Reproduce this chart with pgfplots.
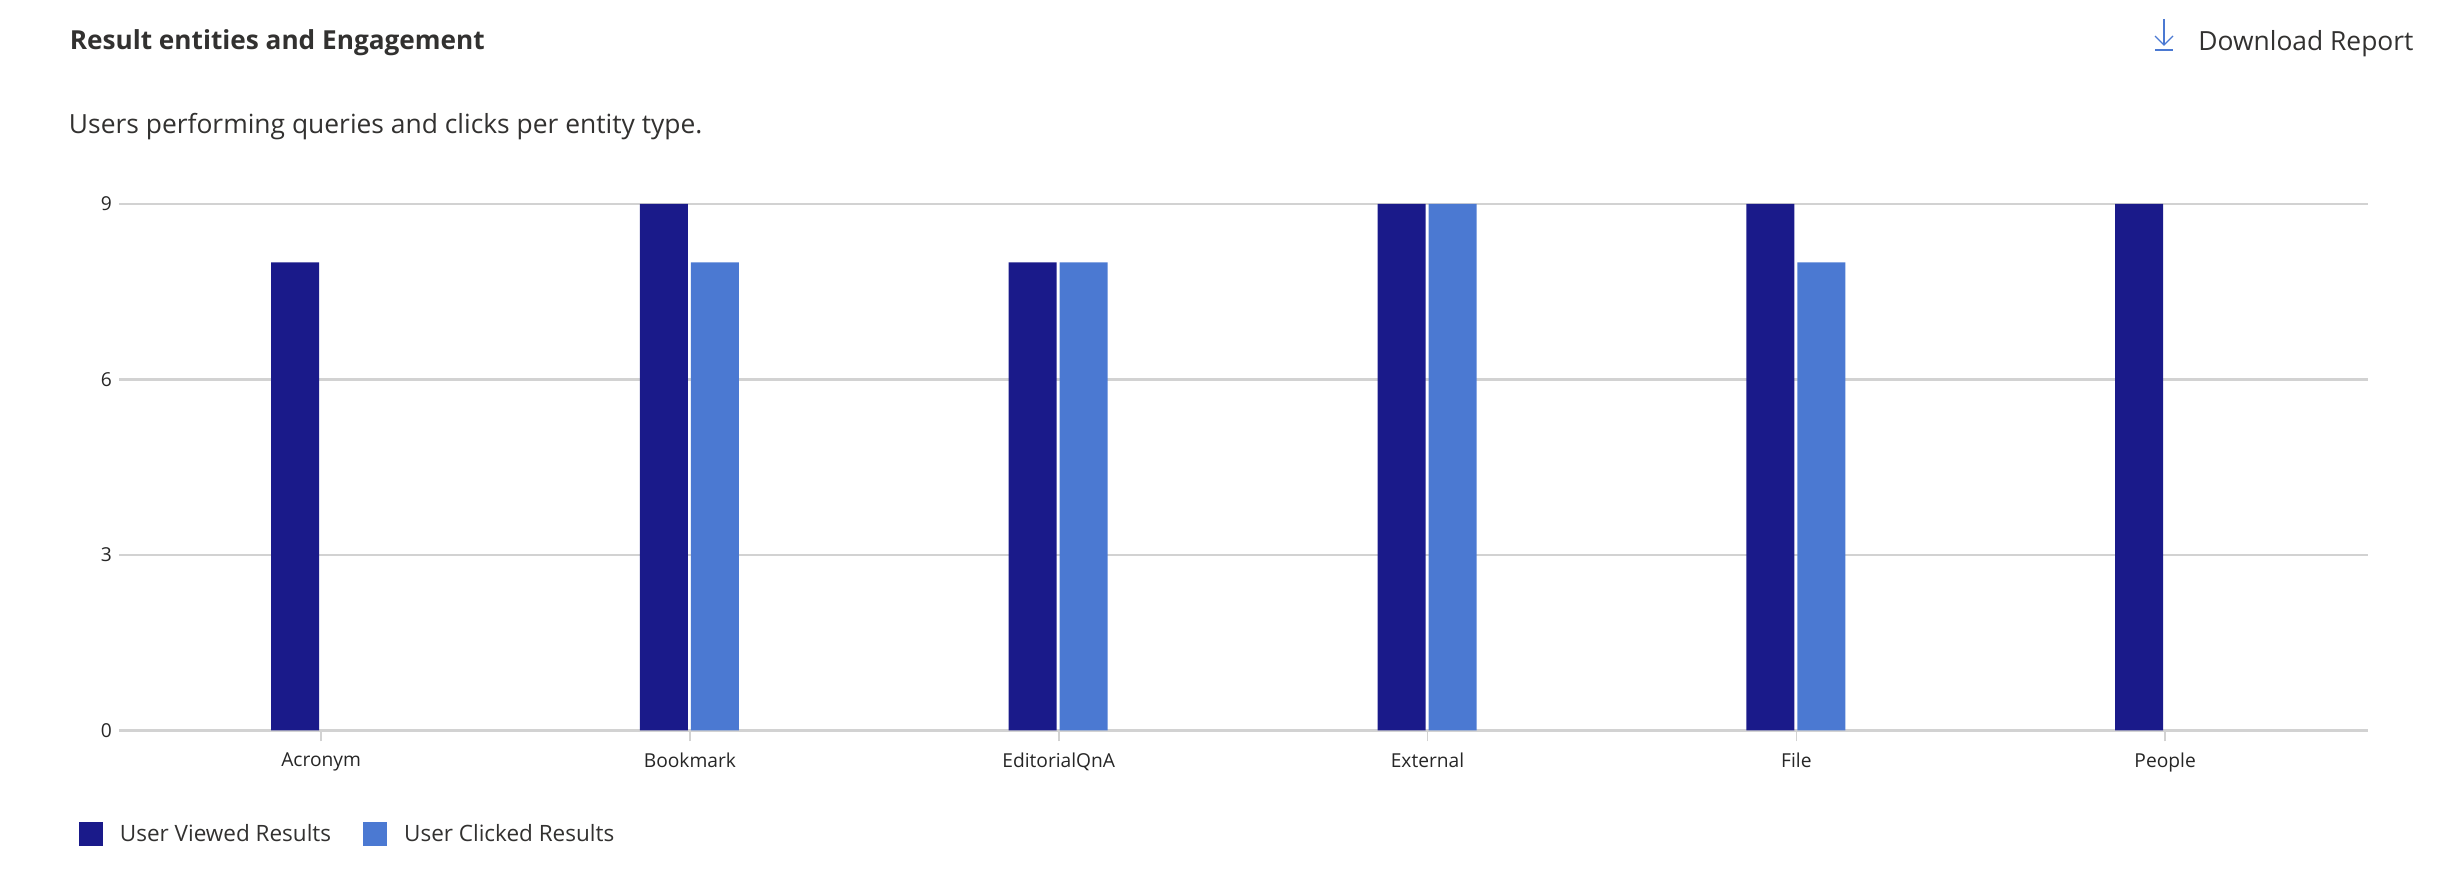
\documentclass[border=0pt]{standalone}
\usepackage{pgfplots}
\usepackage{fontspec}
\setmainfont{Open Sans}
\pgfplotsset{compat=1.18}
\definecolor{viewed}{HTML}{1A1A8A}
\definecolor{clicked}{HTML}{4B79D2}
\definecolor{gridc}{HTML}{D2D2D2}
\definecolor{txt}{HTML}{323130}
\pgfplotstableread{
x viewed clicked
0 8 nan
1 9 8
2 8 8
3 9 9
4 9 8
5 9 nan
}\datatable
\begin{document}
\begin{tikzpicture}
\useasboundingbox (-59.5pt,-76pt) rectangle (1164.5pt,365pt);
\begin{axis}[
  at={(0pt,-0.25pt)}, anchor=south west,
  scale only axis, width=1124.5pt, height=263.25pt,
  xmin=-0.548, xmax=5.55, ymin=0, ymax=9,
  clip=false,
  ybar,
  axis line style={draw=none},
  xtick={0,1,2,3,4,5},
  xtick pos=bottom,
  ytick pos=left,
  xticklabels={Acronym,Bookmark,EditorialQnA,External,File,People},
  ytick={0,3,6,9},
  ymajorgrids,
  grid style={gridc,line width=1.1pt},
  major tick length=5.5pt,
  xtick style={gridc,line width=0.8pt},
  ytick style={draw=none},
  tick label style={font=\fontsize{9.6}{11}\selectfont,text=black!85},
  /pgf/number format/assume math mode=true,
  xticklabel style={yshift=-2pt},
  legend columns=2,
  legend style={draw=none,fill=none,at={(-0.0178,-0.197)},anchor=west,inner sep=0pt,outer sep=0pt,
    font=\fontsize{11.25}{13}\selectfont,text=txt,
    /tikz/every odd column/.style={column sep=6.5pt},
    /tikz/every even column/.style={column sep=14pt}},
  legend image code/.code={\fill[#1] (0pt,-6pt) rectangle (12pt,6pt);},
]
\addplot[fill=viewed,draw=none,bar width=24pt,bar shift=-13pt] table[x=x,y=viewed]{\datatable};
\addlegendentry{User Viewed Results}
\addplot[fill=clicked,draw=none,bar width=24pt,bar shift=12.5pt] table[x=x,y=clicked]{\datatable};
\addlegendentry{User Clicked Results}
\end{axis}
\node[anchor=base west,inner sep=0pt,text=txt,font=\fontsize{13.1}{15}\selectfont\bfseries] at (-24.8pt,340pt) {Result entities and Engagement};
\node[anchor=base west,inner sep=0pt,text=txt,font=\fontsize{13.2}{15}\selectfont] at (-25.2pt,298pt) {Users performing queries and clicks per entity type.};
\node[anchor=base west,inner sep=0pt,text=txt,font=\fontsize{13.2}{15}\selectfont] at (1039.5pt,339.7pt) {Download Report};
\draw[clicked,line width=0.6pt] (1022.5pt,355.5pt) -- (1022.5pt,342.5pt);
\draw[clicked,line width=0.6pt] (1018pt,347pt) -- (1022.5pt,342.5pt) -- (1027pt,347pt);
\draw[clicked,line width=0.8pt] (1018pt,340pt) -- (1027pt,340pt);
\end{tikzpicture}
\end{document}
